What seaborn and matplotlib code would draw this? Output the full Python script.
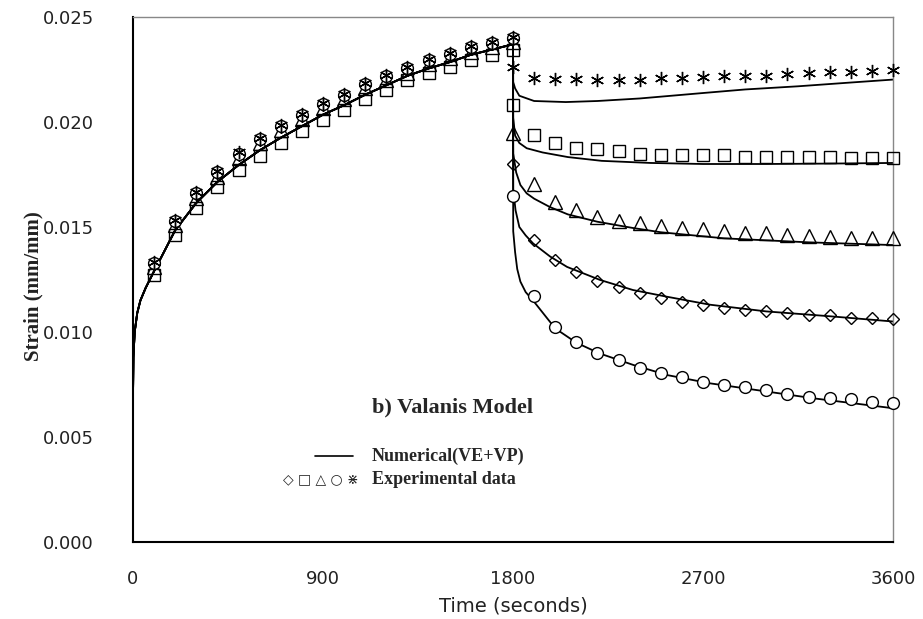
import matplotlib
matplotlib.use("Agg")
import matplotlib.pyplot as plt
import seaborn as sns
import pandas as pd
from matplotlib.lines import Line2D

# ---------------- data (strain in 1e-3 mm/mm) ----------------
SCALE = 1e-3
LOAD_T = [100, 200, 300, 400, 500, 600, 700, 800, 900, 1000,
          1100, 1200, 1300, 1400, 1500, 1600, 1700, 1800]
UNLOAD_T = [1800, 1900, 2000, 2100, 2200, 2300, 2400, 2500, 2600, 2700,
            2800, 2900, 3000, 3100, 3200, 3300, 3400, 3500, 3600]

load_diamond = [13.25, 15.25, 16.55, 17.55, 18.45, 19.15, 19.75, 20.3, 20.8, 21.25,
                21.75, 22.15, 22.5, 22.9, 23.2, 23.5, 23.7, 23.95]
load_square = [12.7, 14.6, 15.9, 16.9, 17.7, 18.4, 19.0, 19.55, 20.1, 20.55,
               21.1, 21.5, 22.0, 22.35, 22.6, 22.95, 23.2, 23.45]
load_triangle = [13.1, 15.1, 16.4, 17.4, 18.3, 19.0, 19.6, 20.15, 20.65, 21.1,
                 21.6, 22.0, 22.35, 22.75, 23.05, 23.35, 23.55, 23.8]
load_circle = [13.3, 15.3, 16.6, 17.6, 18.5, 19.2, 19.8, 20.35, 20.85, 21.3,
               21.8, 22.2, 22.55, 22.95, 23.25, 23.55, 23.75, 24.0]
load_star = [13.35, 15.35, 16.65, 17.65, 18.55, 19.25, 19.85, 20.4, 20.9, 21.35,
             21.85, 22.25, 22.6, 23.0, 23.3, 23.6, 23.8, 24.05]

unload_diamond = [18.0, 14.4, 13.45, 12.85, 12.42, 12.15, 11.87, 11.64, 11.45, 11.27,
                  11.12, 11.05, 10.98, 10.9, 10.81, 10.79, 10.69, 10.65, 10.6]
unload_square = [20.8, 19.4, 19.0, 18.75, 18.7, 18.6, 18.5, 18.45, 18.43, 18.43,
                 18.43, 18.35, 18.35, 18.35, 18.35, 18.35, 18.3, 18.27, 18.27]
unload_triangle = [19.5, 17.05, 16.2, 15.8, 15.5, 15.3, 15.18, 15.03, 14.96, 14.89,
                   14.82, 14.73, 14.7, 14.62, 14.59, 14.54, 14.49, 14.46, 14.46]
unload_circle = [16.5, 11.7, 10.25, 9.54, 9.02, 8.67, 8.3, 8.06, 7.84, 7.63,
                 7.48, 7.37, 7.24, 7.05, 6.92, 6.87, 6.79, 6.68, 6.6]
unload_star = [22.6, 22.1, 22.05, 22.05, 22.0, 22.0, 22.0, 22.1, 22.1, 22.15,
               22.2, 22.2, 22.2, 22.3, 22.35, 22.4, 22.4, 22.45, 22.5]

# numerical (VE+VP) model curves
num_load_t = [0, 2, 8, 20, 35, 60, 100, 200, 300, 400, 500, 600, 700, 800, 900, 1000,
              1100, 1200, 1300, 1400, 1500, 1600, 1700, 1800]
num_load_v = [6.9, 8.8, 10.0, 10.9, 11.5, 12.1, 12.9, 14.85, 16.15, 17.15, 17.95, 18.65,
              19.25, 19.8, 20.35, 20.8, 21.3, 21.75, 22.2, 22.55, 22.85, 23.2, 23.45, 23.7]

num_star_t = [1801, 1810, 1830, 1900, 2050, 2200, 2400, 2550, 2700, 2900, 3150, 3400, 3600]
num_star_v = [21.9, 21.6, 21.25, 21.0, 20.95, 21.0, 21.12, 21.25, 21.38, 21.55, 21.7, 21.88, 22.02]
num_square_t = [1801, 1810, 1830, 1865, 1940, 2060, 2220, 2450, 2700, 3000, 3300, 3600]
num_square_v = [20.2, 19.35, 19.0, 18.75, 18.55, 18.33, 18.15, 18.05, 18.0, 18.0, 18.02, 18.05]
num_triangle_t = [1801, 1815, 1835, 1865, 1900, 1975, 2060, 2200, 2370, 2500, 2800, 3200, 3600]
num_triangle_v = [18.5, 17.6, 17.0, 16.6, 16.35, 15.95, 15.6, 15.25, 14.95, 14.75, 14.46, 14.27, 14.14]
num_diamond_t = [1801, 1812, 1830, 1860, 1895, 1975, 2056, 2212, 2368, 2529, 2733, 3000, 3300, 3600]
num_diamond_v = [16.8, 15.8, 15.0, 14.6, 14.22, 13.6, 13.1, 12.48, 12.0, 11.68, 11.3, 10.98, 10.75, 10.5]
num_circle_t = [1801, 1810, 1820, 1835, 1860, 1895, 2000, 2100, 2210, 2370, 2530, 2730, 2800, 3225, 3600]
num_circle_v = [14.8, 13.8, 13.0, 12.4, 11.9, 11.5, 10.17, 9.49, 8.98, 8.43, 7.95, 7.56, 7.46, 6.84, 6.37]

X_TICKS = [0, 900, 1800, 2700, 3600]
Y_TICKS = [0.000, 0.005, 0.010, 0.015, 0.020, 0.025]

# ---------------- figure ----------------
sns.set_style("white")
plt.rcParams["font.family"] = ["DejaVu Sans"]

fig = plt.figure(figsize=(9.23, 6.19), dpi=100)
ax = fig.add_axes([133 / 923, 1 - 542 / 619, 760 / 923, 525 / 619])

line_kw = dict(color="black", linewidth=1.3, estimator=None, sort=False, ax=ax)

numerical = [
    (num_star_t, num_star_v),
    (num_square_t, num_square_v),
    (num_triangle_t, num_triangle_v),
    (num_diamond_t, num_diamond_v),
    (num_circle_t, num_circle_v),
]
for t_u, v_u in numerical:
    df = pd.DataFrame({"t": num_load_t + t_u,
                       "v": [v * SCALE for v in num_load_v + v_u]})
    sns.lineplot(data=df, x="t", y="v", **line_kw)

series = [
    ("D", 6.2, "none", load_diamond, unload_diamond),
    ("s", 8.5, "none", load_square, unload_square),
    ("^", 9.5, "none", load_triangle, unload_triangle),
    ("o", 8.5, "white", load_circle, unload_circle),
    ((6, 2, 0), 9.5, "none", load_star, unload_star),
]
for marker, ms, mfc, lv, uv in series:
    for tt, vv in ((LOAD_T, lv), (UNLOAD_T, uv)):
        df = pd.DataFrame({"t": tt, "v": [v * SCALE for v in vv]})
        sns.lineplot(data=df, x="t", y="v", ax=ax, estimator=None, sort=False,
                     color="black", linestyle="", marker=marker, markersize=ms,
                     markerfacecolor=mfc, markeredgecolor="black",
                     markeredgewidth=1.0, clip_on=False, zorder=3)

ax.set_xlim(0, 3600)
ax.set_ylim(0, 0.025)
ax.set_xticks(X_TICKS)
ax.set_yticks(Y_TICKS)
ax.set_yticklabels([f"{v:.3f}" for v in Y_TICKS])
ax.set_xticklabels([str(v) for v in X_TICKS])

ax.tick_params(axis="both", direction="in", length=6, width=1.0, color="black")
ax.tick_params(axis="y", pad=28, labelsize=13, labelcolor="#222222")
ax.tick_params(axis="x", pad=20, labelsize=13, labelcolor="#222222")

for side in ("left", "bottom"):
    ax.spines[side].set_color("black")
    ax.spines[side].set_linewidth(1.5)
for side in ("top", "right"):
    ax.spines[side].set_color("#888888")
    ax.spines[side].set_linewidth(1.0)

ax.set_xlabel("Time (seconds)", fontsize=14, color="#222222")
ax.xaxis.set_label_coords(0.5, -0.103)
ax.set_ylabel("Strain (mm/mm)", fontsize=15, family=["Liberation Serif"],
              fontweight="bold", color="#222222")
ax.yaxis.set_label_coords(-0.118, 0.488)

# legend block (text annotations)
serif = ["Liberation Serif"]
ax.text(0.3145, 0.257, "b) Valanis Model", transform=ax.transAxes, family=serif,
        fontweight="bold", fontsize=16, va="center", ha="left")
ax.add_line(Line2D([0.2395, 0.2895], [0.164, 0.164], transform=ax.transAxes,
                   color="black", linewidth=1.2))
ax.text(0.3145, 0.164, "Numerical(VE+VP)", transform=ax.transAxes, family=serif,
        fontweight="bold", fontsize=13, va="center", ha="left")
ax.text(0.297, 0.12, "\u25c7 \u25a1 \u25b3 \u25cb \u22c7", transform=ax.transAxes,
        family=["DejaVu Sans"], fontsize=10, va="center", ha="right")
ax.text(0.3145, 0.12, "Experimental data", transform=ax.transAxes, family=serif,
        fontweight="bold", fontsize=13, va="center", ha="left")

fig.savefig("out.png", dpi=100)
